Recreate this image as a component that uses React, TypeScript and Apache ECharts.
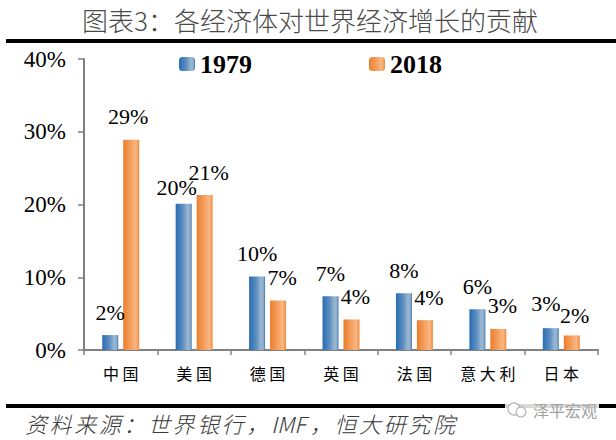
import React, { useEffect, useRef } from "react";
import * as echarts from "echarts";

const categories = ["中国", "美国", "德国", "英国", "法国", "意大利", "日本"];
const values1979 = [2.05, 20.1, 10.1, 7.4, 7.8, 5.6, 3.0];
const values2018 = [28.9, 21.3, 6.8, 4.2, 4.1, 2.9, 2.0];
const yTicks = [0, 10, 20, 30, 40];
const seriesNames = ["1979", "2018"];
const titleText = "图表3：各经济体对世界经济增长的贡献";
const sourceText = "资料来源：世界银行，IMF，恒大研究院";
const watermarkText = "泽平宏观";

const SERIF = '"Liberation Serif", "Times New Roman", serif';
const CJK = '"Noto Sans CJK SC", "Noto Sans", sans-serif';

const blueGrad = new echarts.graphic.LinearGradient(0, 0, 1, 0, [
  { offset: 0, color: "#2A6CB0" },
  { offset: 0.45, color: "#5C8FC2" },
  { offset: 0.75, color: "#9DB7D0" },
  { offset: 0.9, color: "#8AABCB" },
  { offset: 1, color: "#3A76B2" },
]);
const orangeGrad = new echarts.graphic.LinearGradient(0, 0, 1, 0, [
  { offset: 0, color: "#EB7D2C" },
  { offset: 0.5, color: "#F5A263" },
  { offset: 0.8, color: "#F8B783" },
  { offset: 1, color: "#EE893A" },
]);

// small per-label nudges (label placement like the source's)
const nudge1979: Record<number, number[]> = { 1: [-7, 7], 6: [-5, -2] };
const nudge2018: Record<number, number[]> = { 0: [-3, 0], 1: [4, 0], 6: [3, 3] };

// footer text laid out with letter spacing (zrender has no letterSpacing)
function spacedText(text: string, x0: number, y: number, fontSize: number, spacing: number) {
  const segs = text.match(/[A-Za-z]+|./g) || [];
  const out: any[] = [];
  let x = x0;
  for (const s of segs) {
    const w = /^[A-Za-z]+$/.test(s) ? s.length * fontSize * 0.55 : fontSize;
    out.push({
      type: "text",
      x,
      y,
      style: {
        text: s,
        fontSize,
        fontFamily: CJK,
        fontStyle: "italic",
        fontWeight: 300,
        fill: "#3a3a3a",
        verticalAlign: "middle",
      },
    });
    x += w + spacing;
  }
  return out;
}

export default function App() {
  const ref = useRef<HTMLDivElement>(null);
  useEffect(() => {
    if (!ref.current) return;
    const chart = echarts.init(ref.current, null, { renderer: "svg" });
    const mkData = (vals: number[], nudge: Record<number, number[]>) =>
      vals.map((v, i) =>
        nudge[i] ? { value: v, label: { offset: nudge[i] } } : v
      );
    const labelStyle = {
      show: true,
      position: "top",
      distance: 12,
      fontSize: 22,
      fontFamily: SERIF,
      color: "#000",
      formatter: (p: any) => `${Math.round(p.value)}%`,
    };
    chart.setOption({
      animation: false,
      backgroundColor: "#fff",
      grid: { left: 84, right: 18, top: 59, bottom: 90, containLabel: false },
      legend: {
        data: seriesNames,
        left: 174,
        top: 46,
        itemWidth: 16,
        itemHeight: 14,
        itemGap: 117,
        textStyle: {
          fontSize: 26,
          fontWeight: "bold",
          fontFamily: SERIF,
          color: "#000",
        },
      },
      xAxis: {
        type: "category",
        data: categories,
        axisLine: { lineStyle: { color: "#808080", width: 2 } },
        axisTick: {
          show: true,
          alignWithLabel: false,
          length: 5,
          lineStyle: { color: "#808080", width: 1.5 },
        },
        axisLabel: {
          margin: 15,
          fontSize: 16,
          fontFamily: CJK,
          color: "#000",
          formatter: (v: string) => v.split("").join(" "),
        },
      },
      yAxis: {
        type: "value",
        min: yTicks[0],
        max: yTicks[yTicks.length - 1],
        interval: 10,
        splitLine: { show: false },
        axisLine: { show: true, lineStyle: { color: "#808080", width: 2 } },
        axisTick: {
          show: true,
          inside: false,
          length: 6,
          lineStyle: { color: "#808080", width: 1.5 },
        },
        axisLabel: {
          margin: 18,
          fontSize: 23,
          fontFamily: SERIF,
          color: "#000",
          formatter: "{value}%",
        },
      },
      series: [
        {
          name: seriesNames[0],
          type: "bar",
          data: mkData(values1979, nudge1979),
          barWidth: 16,
          barGap: "31%",
          itemStyle: { color: blueGrad },
          label: labelStyle,
        },
        {
          name: seriesNames[1],
          type: "bar",
          data: mkData(values2018, nudge2018),
          barWidth: 16,
          itemStyle: { color: orangeGrad },
          label: { ...labelStyle, offset: [4, 0] },
        },
      ],
      graphic: [
        {
          type: "text",
          left: 82,
          top: 6,
          style: {
            text: titleText,
            fontSize: 26,
            fontFamily: CJK,
            fontWeight: 300,
            fill: "#4a4a4a",
          },
        },
        {
          type: "rect",
          shape: { x: 6, y: 39, width: 610, height: 4 },
          style: { fill: "#000" },
        },
        {
          type: "rect",
          shape: { x: 6, y: 404, width: 610, height: 4 },
          style: { fill: "#000" },
        },
        ...spacedText(sourceText, 25, 423, 22, 2.6),
        {
          type: "group",
          left: 505,
          top: 401,
          children: [
            {
              type: "rect",
              shape: { x: 0, y: 0, width: 94, height: 18 },
              style: { fill: "rgba(255,255,255,0.85)" },
            },
            {
              type: "circle",
              shape: { cx: 9, cy: 8, r: 6 },
              style: { fill: "#fff", stroke: "#b0b0b0", lineWidth: 1.2 },
            },
            {
              type: "circle",
              shape: { cx: 16, cy: 11, r: 5 },
              style: { fill: "#fff", stroke: "#b0b0b0", lineWidth: 1.2 },
            },
            {
              type: "text",
              x: 28,
              y: 1,
              style: {
                text: watermarkText,
                fontSize: 16,
                fontFamily: CJK,
                fill: "#a0a0a0",
              },
            },
          ],
        },
      ],
    });
    return () => chart.dispose();
  }, []);
  return (
    <div
      ref={ref}
      style={{ position: "fixed", left: 0, top: 0, width: 616, height: 440 }}
    />
  );
}
